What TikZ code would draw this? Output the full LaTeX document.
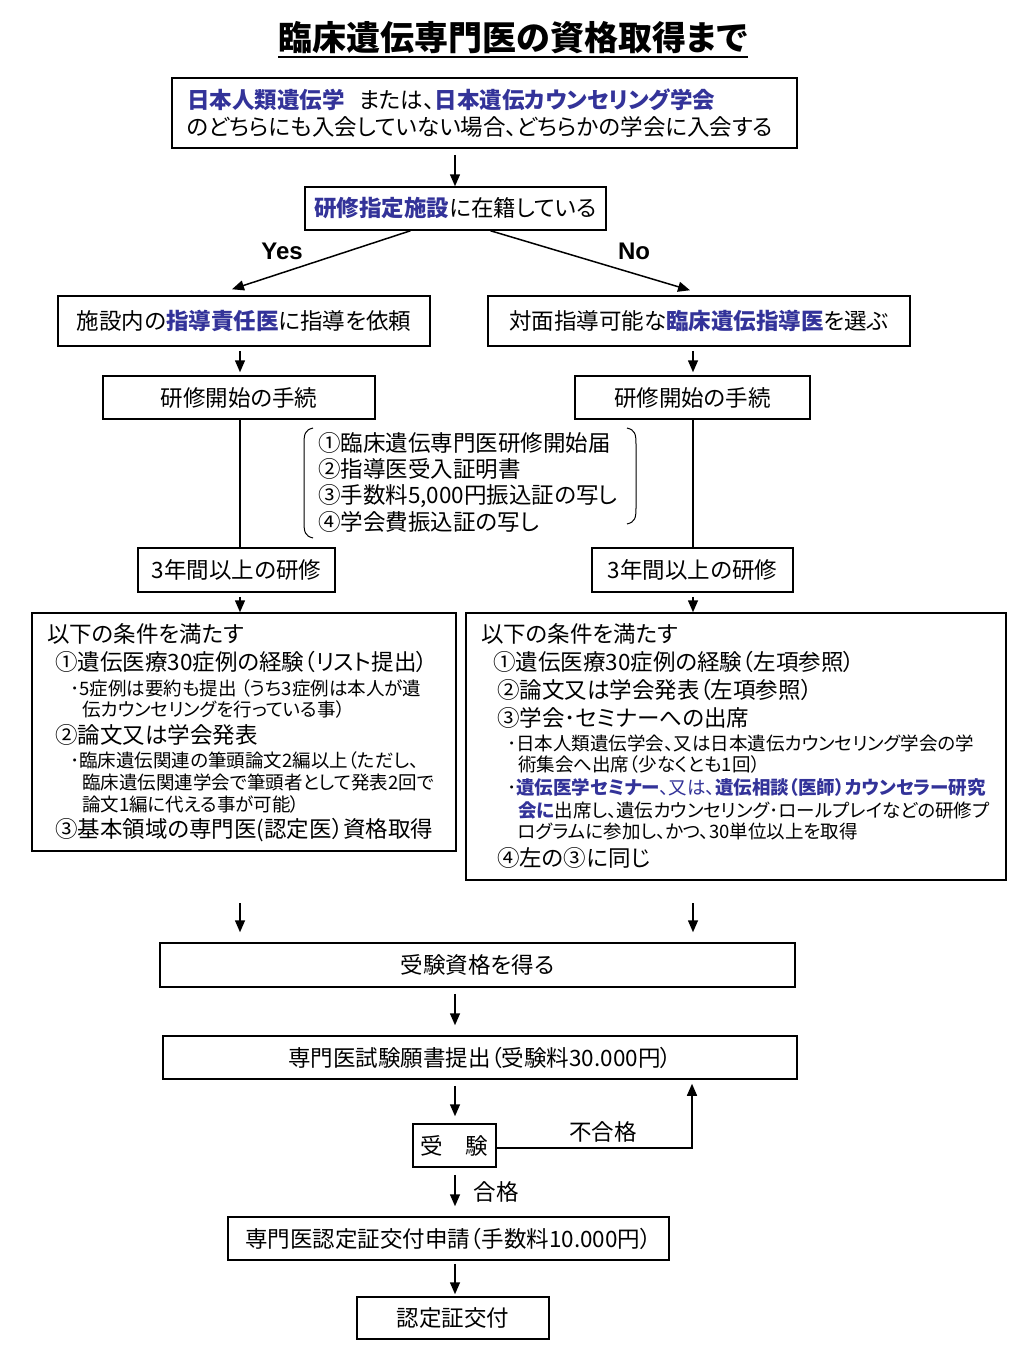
\documentclass[tikz,border=0pt]{standalone}
\usepackage{fontspec}
\setmainfont[RawFeature=+palt]{Noto Sans CJK JP}
\newfontfamily\latinb{Liberation Sans}
\usetikzlibrary{arrows.meta}
\definecolor{jblue}{RGB}{51,51,153}
\newcommand{\hb}[1]{\textcolor{jblue}{\bfseries #1}}
\begin{document}
\begin{tikzpicture}[x=1pt,y=-1pt,
  box/.style={draw=black, line width=1.5pt, inner sep=0pt},
  arr/.style={line width=1.5pt, -{Triangle[length=12pt,width=10pt]}},
  ln/.style={line width=1.5pt},
  tx/.style={anchor=west, inner sep=0pt, font=\fontsize{22.5}{24}\selectfont},
  sm/.style={anchor=west, inner sep=0pt, font=\fontsize{18.5}{20}\selectfont},
  ctx/.style={font=\fontsize{22.5}{24}\selectfont},
]
\useasboundingbox[fill=white] (0,0) rectangle (1024,1365);
% title
\node[font=\fontsize{34}{36}\selectfont\bfseries, inner sep=0pt] (title) at (513,38) {臨床遺伝専門医の資格取得まで};
\draw[line width=2.5pt] (title.west |- 0,57) -- (title.east |- 0,57);
% column coordinates
\coordinate (cl) at (240,0);
\coordinate (cr) at (693,0);
\coordinate (cm) at (455,0);
% box 1
\node[box, minimum width=625, minimum height=70] (b1) at (484.5,113) {};
\node[tx] (b1t1) at (187,100) {\hb{日本人類遺伝学}\hspace{14pt}または、\hb{日本遺伝カウンセリング学会}};
\node[tx] (b1t2) at (187,127) {のどちらにも入会していない場合、どちらかの学会に入会する};
% box 2
\node[box, minimum width=301, minimum height=43, ctx] (b2) at (455.5,208.5) {\hb{研修指定施設}に在籍している};
\draw[arr] ([yshift=-6]b1.south -| cm) -- (b2.north -| cm);
% yes / no
\node[font=\latinb\bfseries\fontsize{24}{26}\selectfont] (yes) at (282,251) {Yes};
\node[font=\latinb\bfseries\fontsize{24}{26}\selectfont] (no) at (634,251) {No};
% level 1
\node[box, minimum width=372, minimum height=50, ctx] (l1) at (244,321) {施設内の\hb{指導責任医}に指導を依頼};
\node[box, minimum width=422, minimum height=50, ctx] (r1) at (699,321) {対面指導可能な\hb{臨床遺伝指導医}を選ぶ};
\draw[arr] ([xshift=-45]b2.south) -- ([xshift=-12,yshift=6]l1.north);
\draw[arr] ([xshift=35]b2.south) -- ([xshift=-9,yshift=5]r1.north);
% level 2
\node[box, minimum width=272, minimum height=43, ctx] (l2) at (239,397.5) {研修開始の手続};
\node[box, minimum width=235, minimum height=43, ctx] (r2) at (692.5,397.5) {研修開始の手続};
\draw[arr] ([yshift=-4]l1.south -| cl) -- ([yshift=3]l2.north -| cl);
\draw[arr] ([yshift=-4]r1.south -| cr) -- ([yshift=3]r2.north -| cr);
% documents list
\node[tx] (d1) at (318,443) {①臨床遺伝専門医研修開始届};
\node[tx] (d2) at (318,469) {②指導医受入証明書};
\node[tx] (d3) at (318,496) {③手数料5,000円振込証の写し};
\node[tx] (d4) at (318,522) {④学会費振込証の写し};
\draw[line width=1pt] (313,428) .. controls (305,430) and (304,434) .. (304,444) -- (304,522) .. controls (304,532) and (305,536) .. (313,538);
\draw[line width=1pt] (627,428) .. controls (635,430) and (636,434) .. (636,444) -- (636,508) .. controls (636,518) and (635,522) .. (627,524);
% level 3
\node[box, minimum width=197, minimum height=44, ctx] (l3) at (236.5,570) {3年間以上の研修};
\node[box, minimum width=201, minimum height=44, ctx] (r3) at (692.5,570) {3年間以上の研修};
\draw[ln] (l2.south -| cl) -- (l3.north -| cl);
\draw[ln] (r2.south -| cr) -- (r3.north -| cr);
% level 4 boxes
\node[box, minimum width=424, minimum height=238] (l4) at (244,732) {};
\node[box, minimum width=540, minimum height=267] (r4) at (736,746.5) {};
\draw[arr] ([yshift=-4]l3.south -| cl) -- (l4.north -| cl);
\draw[arr] ([yshift=-4]r3.south -| cr) -- (r4.north -| cr);
% left conditions
\node[tx] (lc0) at (47,634) {以下の条件を満たす};
\node[tx] (lc1) at (55,662) {①遺伝医療30症例の経験（リスト提出）};
\node[sm] (lc1a) at (70,688) {･5症例は要約も提出 （うち3症例は本人が遺};
\node[sm] (lc1b) at (82,709) {伝カウンセリングを行っている事）};
\node[tx] (lc2) at (55,735) {②論文又は学会発表};
\node[sm] (lc2a) at (70,760) {･臨床遺伝関連の筆頭論文2編以上（ただし、};
\node[sm] (lc2b) at (82,782) {臨床遺伝関連学会で筆頭者として発表2回で};
\node[sm] (lc2c) at (82,804) {論文1編に代える事が可能）};
\node[tx] (lc3) at (55,830) {③基本領域の専門医(認定医）資格取得};
% right conditions
\node[tx] (rc0) at (481,634) {以下の条件を満たす};
\node[tx] (rc1) at (493,662) {①遺伝医療30症例の経験（左項参照）};
\node[tx] (rc2) at (497,690) {②論文又は学会発表（左項参照）};
\node[tx] (rc3) at (497,718) {③学会･セミナーへの出席};
\node[sm] (rc3a) at (507,743) {･日本人類遺伝学会、又は日本遺伝カウンセリング学会の学};
\node[sm] (rc3b) at (518,764) {術集会へ出席（少なくとも1回）};
\node[sm] (rc3c) at (507,787) {･\hb{遺伝医学セミナー}\textcolor{jblue}{、又は、}\hb{遺伝相談（医師）カウンセラー研究}};
\node[sm] (rc3d) at (518,810) {\hb{会に}出席し、遺伝カウンセリング･ロールプレイなどの研修プ};
\node[sm] (rc3e) at (518,832) {ログラムに参加し、かつ、30単位以上を取得};
\node[tx] (rc4) at (497,858) {④左の③に同じ};
% lower part
\node[box, minimum width=635, minimum height=44, ctx] (q) at (477.5,965) {受験資格を得る};
\coordinate (la) at (240,903);
\coordinate (ra) at (693,903);
\draw[arr] (la) -- ([yshift=10]q.north -| la);
\draw[arr] (ra) -- ([yshift=10]q.north -| ra);
\node[box, minimum width=634, minimum height=43, ctx] (a) at (480,1057.5) {専門医試験願書提出（受験料30.000円）};
\draw[arr] ([yshift=-6]q.south -| cm) -- ([yshift=10]a.north -| cm);
\node[box, minimum width=83, minimum height=43, ctx] (e) at (454.5,1145.5) {受　験};
\draw[arr] ([yshift=-6]a.south -| cm) -- ([yshift=7]e.north -| cm);
\coordinate (fc) at (692,1148);
\draw[arr] (e.east |- fc) -- (fc) -- ([yshift=-4]a.south -| fc);
\node[ctx, anchor=south] (fail) at (603,1146) {不合格};
\node[box, minimum width=441, minimum height=43, ctx] (c) at (448.5,1238.5) {専門医認定証交付申請（手数料10.000円）};
\draw[arr] ([yshift=-7]e.south -| cm) -- ([yshift=10]c.north -| cm);
\node[ctx, anchor=west] (pass) at (470,1192) {合格};
\node[box, minimum width=192, minimum height=42, ctx] (d) at (453,1318) {認定証交付};
\draw[arr] ([yshift=-3]c.south -| cm) -- ([yshift=2]d.north -| cm);
\end{tikzpicture}
\end{document}
